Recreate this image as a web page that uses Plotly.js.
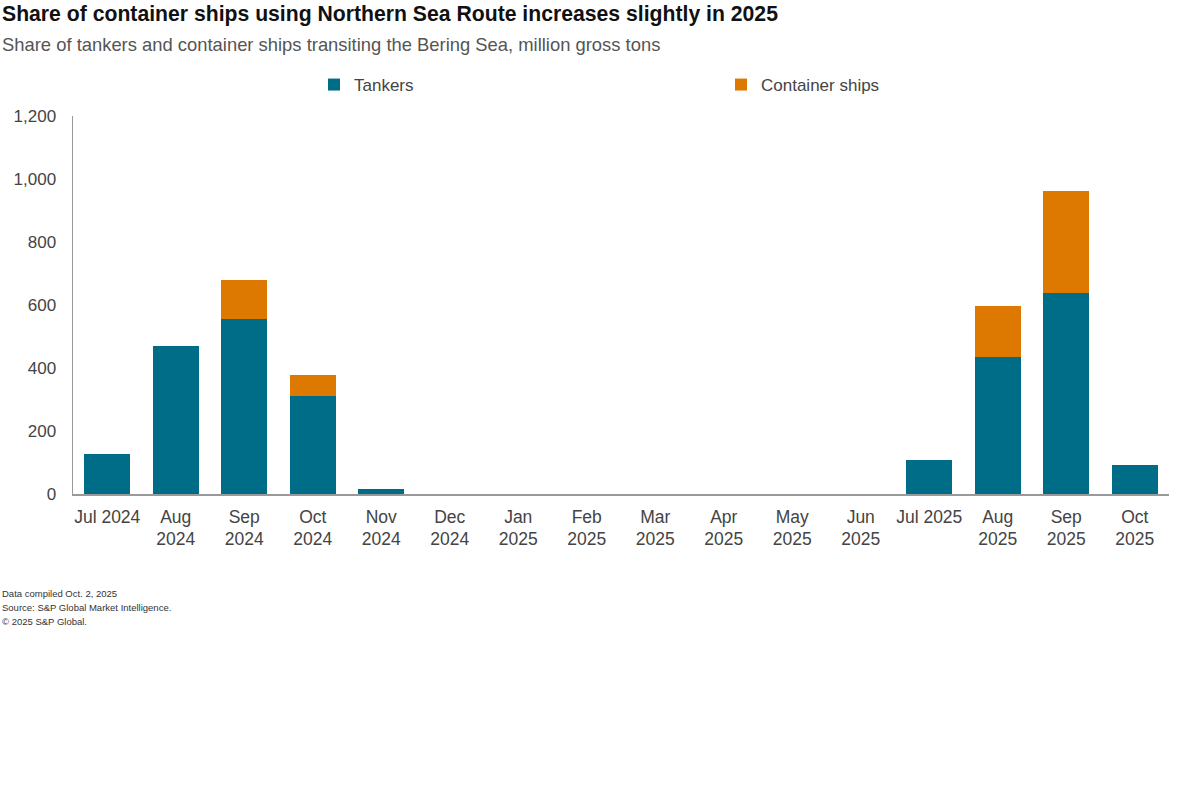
<!DOCTYPE html>
<html>
<head>
<meta charset="utf-8">
<script src="https://cdn.plot.ly/plotly-3.0.1.min.js"></script>
<style>html,body{margin:0;padding:0;background:#fff;}#chart{width:1200px;height:800px;}</style>
</head>
<body>
<div id="chart"></div>
<script>
const months = ["Jul 2024","Aug<br>2024","Sep<br>2024","Oct<br>2024","Nov<br>2024","Dec<br>2024","Jan<br>2025","Feb<br>2025","Mar<br>2025","Apr<br>2025","May<br>2025","Jun<br>2025","Jul 2025","Aug<br>2025","Sep<br>2025","Oct<br>2025"];
const tankers = [128, 471, 556, 310, 17, 0, 0, 0, 0, 0, 0, 0, 109, 436, 637, 91];
const containerShips = [0, 0, 124, 69, 0, 0, 0, 0, 0, 0, 0, 0, 0, 160, 324, 0];
const yTicks = [0, 200, 400, 600, 800, 1000, 1200];

const FONT = "Liberation Sans, Arial, sans-serif";
const traces = [
  {type:"bar", name:"Tankers", x:months, y:tankers, marker:{color:"#006d88"}},
  {type:"bar", name:"Container ships", x:months, y:containerShips, marker:{color:"#dd7800"}}
];
const layout = {
  width:1200, height:800,
  paper_bgcolor:"#fff", plot_bgcolor:"#fff",
  margin:{l:73, r:31, t:116, b:306, autoexpand:false},
  barmode:"stack", bargap:0.33,
  font:{family:FONT, color:"#444", size:16},
  showlegend:true,
  legend:{orientation:"h", x:(314-73)/1096, xanchor:"left", y:1+13/378, yanchor:"bottom", yref:"paper",
          entrywidth:362, entrywidthmode:"pixels", font:{size:17, color:"#444"}, itemclick:false, traceorder:"normal"},
  xaxis:{type:"category", tickvals:months, ticktext:months, showline:true, linecolor:"#999", linewidth:1.5,
         ticks:"", showgrid:false, zeroline:false, tickfont:{size:17.5, color:"#444"}, ticklabelstandoff:6, fixedrange:true},
  yaxis:{range:[0,1200], tickvals:yTicks, tickformat:",", showline:true, linecolor:"#999", linewidth:1.5,
         ticks:"", showgrid:false, zeroline:false, tickfont:{size:17, color:"#444"}, ticklabelstandoff:12, fixedrange:true},
  annotations:[
    {xref:"paper", yref:"paper", x:0, y:1, xanchor:"left", yanchor:"middle", xshift:-73, yshift:102,
     showarrow:false, text:"<b>Share of container ships using Northern Sea Route increases slightly in 2025</b>",
     font:{family:FONT, size:21.2, color:"#111"}},
    {xref:"paper", yref:"paper", x:0, y:1, xanchor:"left", yanchor:"middle", xshift:-73, yshift:72,
     showarrow:false, text:"Share of tankers and container ships transiting the Bering Sea, million gross tons",
     font:{family:FONT, size:18.4, color:"#555"}},
    {xref:"paper", yref:"paper", x:0, y:0, xanchor:"left", yanchor:"middle", xshift:-73, yshift:-99,
     showarrow:false, text:"Data compiled Oct. 2, 2025", font:{family:FONT, size:9.5, color:"#333"}},
    {xref:"paper", yref:"paper", x:0, y:0, xanchor:"left", yanchor:"middle", xshift:-73, yshift:-113,
     showarrow:false, text:"Source: S&P Global Market Intelligence.", font:{family:FONT, size:9.5, color:"#333"}},
    {xref:"paper", yref:"paper", x:0, y:0, xanchor:"left", yanchor:"middle", xshift:-73, yshift:-127,
     showarrow:false, text:"© 2025 S&P Global.", font:{family:FONT, size:9.5, color:"#333"}}
  ]
};
Plotly.newPlot("chart", traces, layout, {displayModeBar:false, staticPlot:true});
</script>
</body>
</html>
